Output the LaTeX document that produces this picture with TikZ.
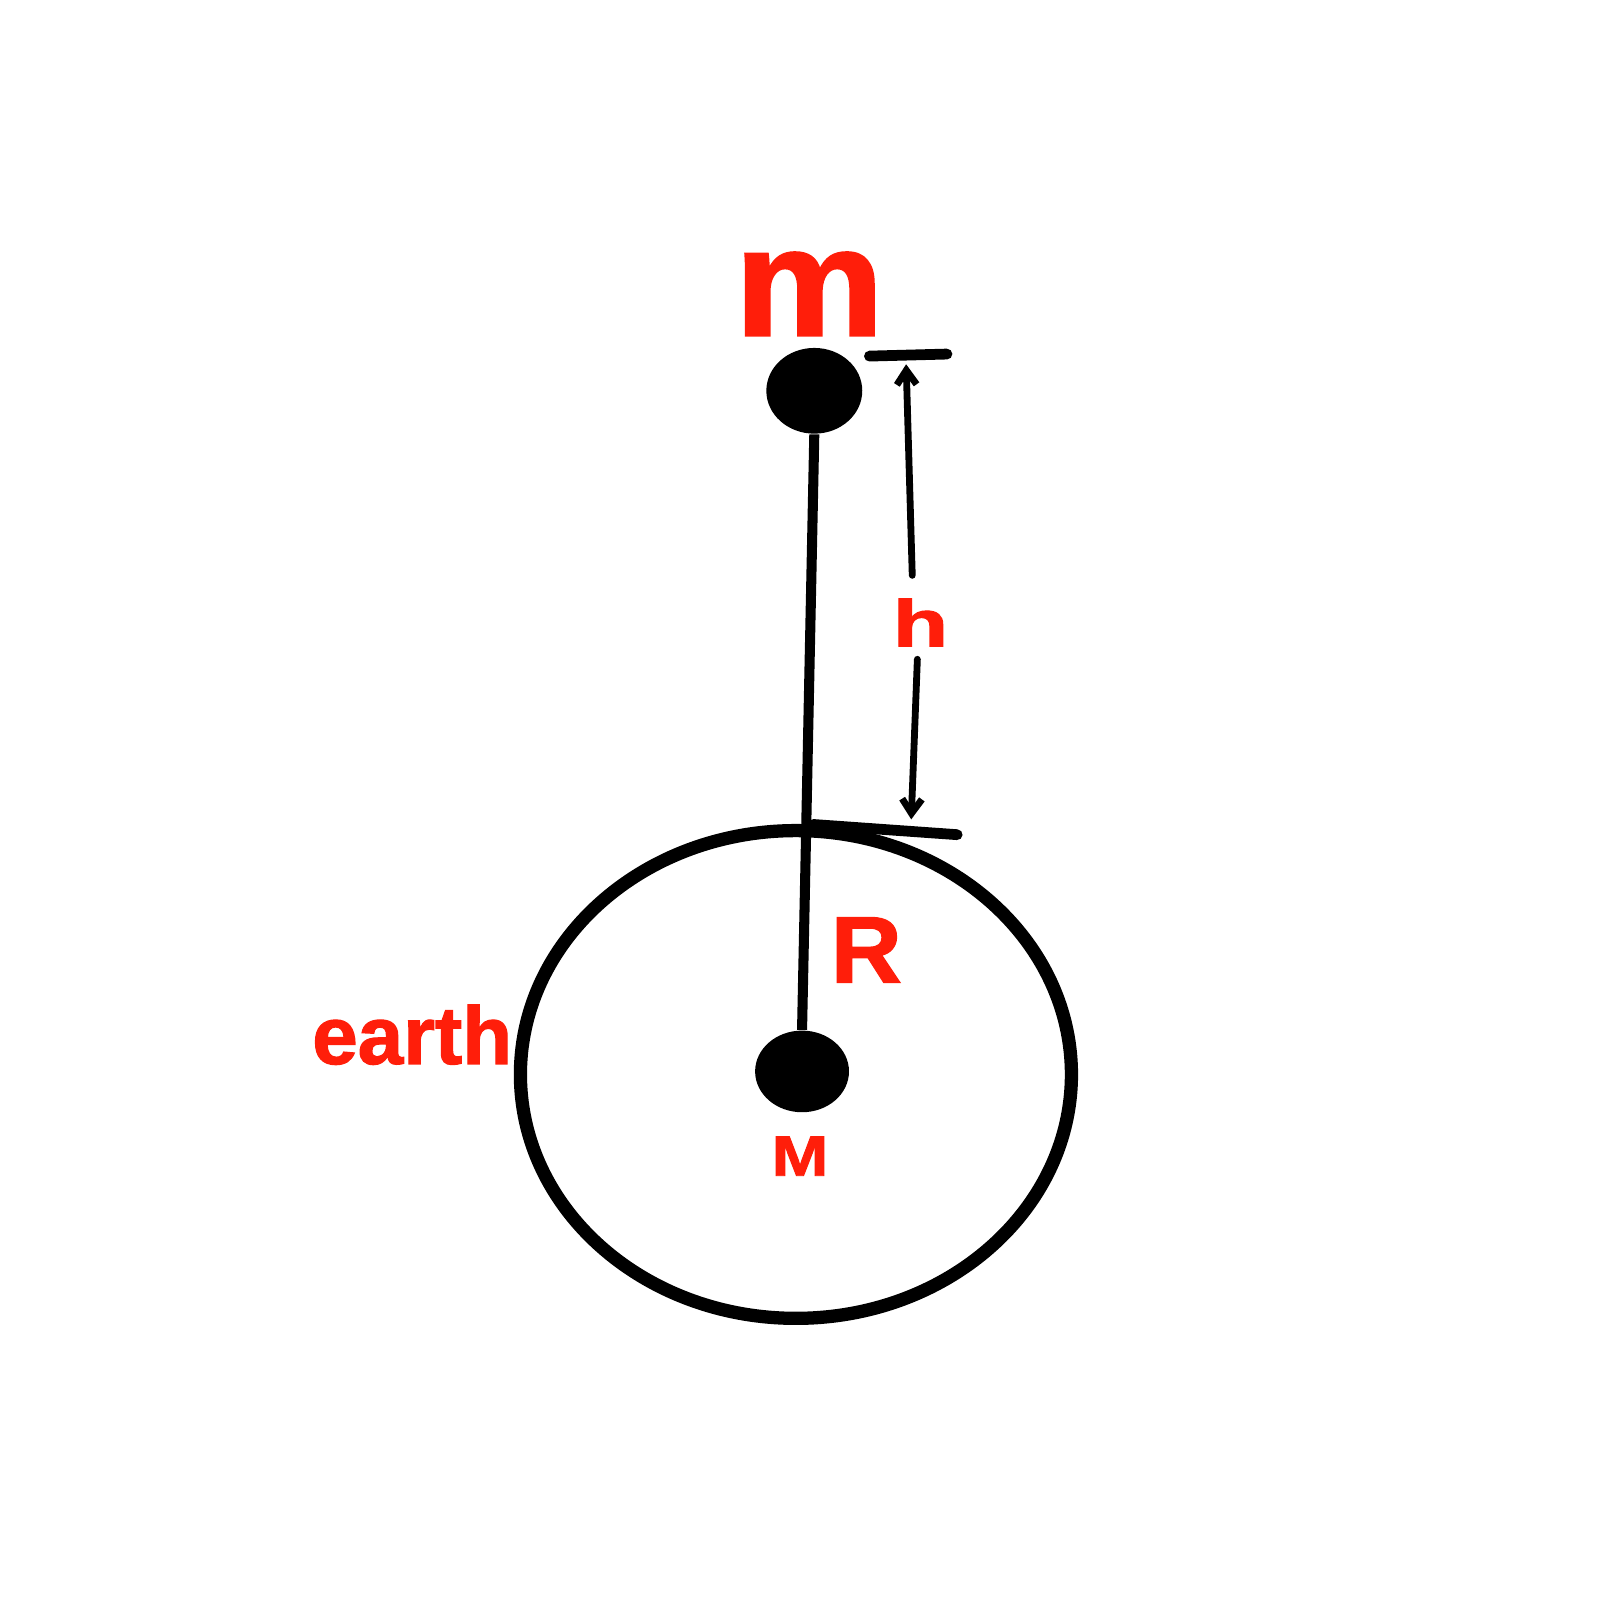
\documentclass[tikz,border=0pt]{standalone}
\usepackage{fontspec}
\usepackage{graphicx}
\setmainfont{Liberation Sans}[BoldFeatures={FakeBold=1.5}]
\usetikzlibrary{arrows.meta,shapes.geometric}
\definecolor{labelred}{RGB}{255,30,10}
\tikzset{
	lbl/.style={text=labelred, inner sep=0pt},
	dot/.style={ellipse, fill=black, inner sep=0pt},
	tick/.style={line width=3pt, line cap=round},
	dim/.style={line width=1.9pt, line cap=round, -{Straight Barb[length=4pt,width=5.5pt]}}
}
\begin{document}
\begin{tikzpicture}
	\useasboundingbox (0,0.32) rectangle (15.68,16);

	\node[dot, minimum width=0.94cm, minimum height=0.84cm] (m) at (7.98,12.17) {};
	\node[dot, minimum width=0.92cm, minimum height=0.80cm] (M) at (7.86,5.50) {};
	\draw[line width=3.7pt] (7.80,5.47) ellipse [x radius=2.70cm, y radius=2.39cm];

	\node[lbl, font=\fontsize{43}{43}\selectfont\bfseries] (mlabel) at (7.93,13.12) {\scalebox{1.09}[1]{m}};
	\node[lbl, font=\fontsize{15.9}{16}\selectfont\bfseries] (Mlabel) at (7.84,4.67) {\scalebox{1.2}[1]{M}};
	\node[lbl, font=\fontsize{26.3}{26}\selectfont\bfseries] (Rlabel) at (8.49,6.69) {\scalebox{1.04}[1]{R}};
	\node[lbl, font=\fontsize{22.8}{23}\selectfont\bfseries] (earth) at (4.04,5.86) {earth};
	\node[lbl, font=\fontsize{18.4}{18}\selectfont\bfseries] (hlabel) at (9.02,9.90) {\scalebox{1.38}[1]{h}};

	\draw[line width=2.8pt] (m.south) -- (M.north);

	\coordinate (top1) at (8.52,12.51);
	\coordinate (top2) at (9.28,12.53);
	\coordinate (bot1) at (7.97,7.92);
	\coordinate (bot2) at (9.38,7.82);
	\draw[tick] (top1) -- (top2);
	\draw[tick] (bot1) -- (bot2);

	\coordinate (up) at (8.88,12.43);
	\coordinate (down) at (8.93,7.97);
	\draw[dim] (hlabel.north) ++(-0.08,0.22) -- (up);
	\draw[dim] (hlabel.south) ++(-0.03,-0.12) -- (down);
\end{tikzpicture}
\end{document}
